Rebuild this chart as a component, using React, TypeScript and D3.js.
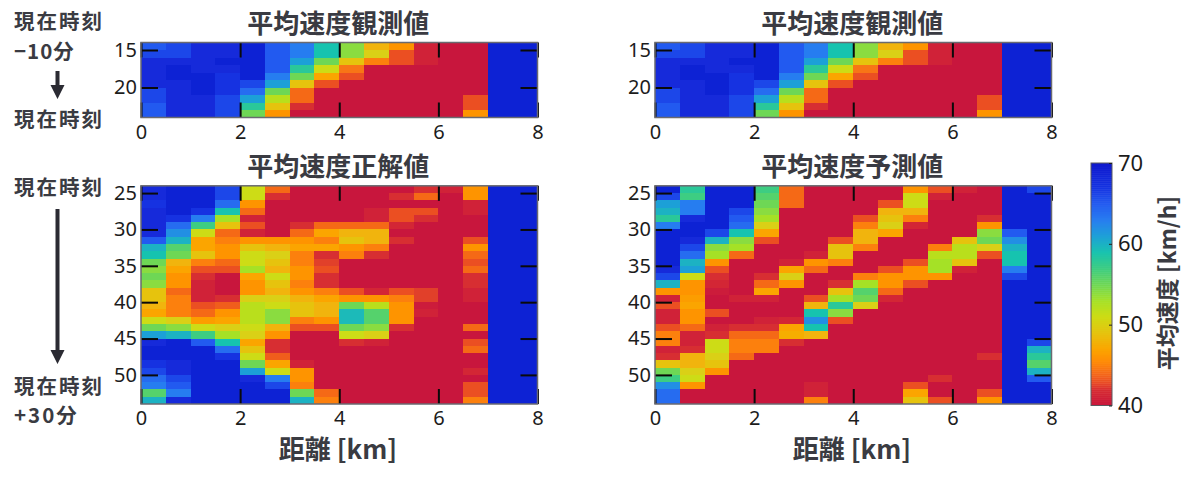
import React, { useEffect, useRef } from 'react';
import * as d3 from 'd3';

// speed values per 0.5 km column, one entry per minute row
const observed: number[][] = [
  [65, 66, 68, 68, 68, 68, 66, 66, 65, 65],
  [66, 66, 68, 69, 69, 68, 68, 68, 68, 68],
  [68, 68, 68, 68, 69, 69, 69, 68, 68, 68],
  [68, 68, 69, 68, 67, 67, 67, 66, 66, 66],
  [69, 69, 69, 69, 69, 66, 64, 61, 58, 55],
  [65, 65, 65, 65, 63, 61, 55, 52, 49, 46],
  [63, 63, 61, 58, 55, 49, 44, 44, 42, 40],
  [59, 59, 55, 51, 47, 43, 40, 40, 40, 40],
  [54, 54, 49, 44.5, 43, 40, 40, 40, 40, 40],
  [48, 50, 45, 40, 40, 40, 40, 40, 40, 40],
  [46, 43, 43, 40, 40, 40, 40, 40, 40, 40],
  [41, 41, 41, 40, 40, 40, 40, 40, 40, 40],
  [40, 40, 40, 40, 40, 40, 40, 40, 40, 40],
  [40, 40, 40, 40, 40, 40, 40, 43, 43, 46],
  [69, 69, 69, 69, 69, 69, 69, 69, 69, 69],
  [69, 69, 69, 69, 69, 69, 69, 69, 69, 69],
];

const truth: number[][] = [
  [68, 68, 67, 68, 68, 68, 68, 65, 60, 59, 55, 54, 55, 54, 49, 49, 48, 47, 51, 55, 61, 68, 69, 69, 67, 66, 64, 63, 56, 60],
  [69, 69, 69, 69, 67, 64, 62, 60, 56, 55, 48, 47, 46, 46, 44, 45, 45, 45, 50, 54, 60, 69, 69, 69, 68, 68, 66, 65, 63, 68],
  [69, 69, 69, 67, 63, 57, 51, 47, 47, 49, 45, 43, 42, 41, 41, 41, 43, 44, 46.5, 51, 57, 65, 69, 69, 69, 69, 69, 69, 69, 69],
  [66, 66, 64, 59, 53, 49, 44, 45, 46, 46, 44, 43, 40, 40, 40, 42, 43.5, 46, 47, 50, 53, 59, 64, 67, 69, 69, 69, 69, 69, 69],
  [51, 51, 46, 44, 41, 43, 41, 46, 49, 51, 51, 53, 47, 46, 46, 50, 52, 52, 52, 51, 50, 47, 49, 51, 55, 61, 68, 69, 69, 69],
  [44, 42, 40, 40, 40, 40, 40, 46, 48, 50, 49, 48, 51, 49, 48, 50, 51, 54, 54, 48, 46, 42, 42, 43.5, 47, 51, 63, 66, 69, 69],
  [40, 40, 40, 40, 40, 42, 44, 46, 47, 45, 45, 46, 46, 45, 46, 48, 49, 49, 45, 43, 40, 40, 40, 40, 41, 46, 46, 45, 55, 60],
  [40, 40, 40, 40, 40, 44, 47, 45, 47, 42, 42.5, 43, 42, 42, 45, 47, 48, 48, 46, 43, 40, 40, 40, 40, 40, 40, 40, 40, 44, 45],
  [40, 40, 40, 40, 40, 44, 48, 49, 46, 45, 40, 40, 40, 40, 43, 46, 55, 59.5, 59.5, 55, 51, 42, 40, 40, 40, 40, 40, 40, 40, 40],
  [40, 40, 40, 41, 41, 44, 48, 48, 45, 42, 40, 40, 40, 40, 41.5, 46, 52, 56, 56, 54, 50, 41, 40, 40, 40, 40, 40, 40, 40, 40],
  [40, 42, 40, 43, 43, 41.5, 40, 42, 40, 40, 40, 40, 40, 40, 43, 45, 46, 46, 46, 42, 40, 40, 40, 40, 40, 40, 40, 40, 40, 40],
  [42, 44, 40, 43, 42, 40, 40, 40, 40, 40, 40, 40, 40, 40, 42.5, 42.5, 40.5, 41, 40, 40, 40, 40, 40, 40, 40, 40, 40, 40, 40, 40],
  [41, 40, 40, 40, 40, 40, 40, 40, 40, 40, 40, 40, 40, 40, 40, 40, 40, 40, 40, 40, 40, 40, 40, 40, 40, 40, 40, 40, 40, 40],
  [46, 46, 41, 41, 40, 40, 40, 43, 46, 44, 43, 44, 42, 42, 41, 41, 40, 40, 40, 44, 40, 43, 44, 40, 40, 41.5, 40, 43, 43, 45],
  [69, 69, 69, 69, 69, 69, 69, 69, 69, 69, 69, 69, 69, 69, 69, 69, 69, 69, 69, 69, 69, 69, 69, 69, 69, 69, 69, 69, 69, 69],
  [69, 69, 69, 69, 69, 69, 69, 69, 69, 69, 69, 69, 69, 69, 69, 69, 69, 69, 69, 69, 69, 69, 69, 69, 69, 69, 69, 69, 69, 69],
];

const predicted: number[][] = [
  [69, 66, 61, 60, 58, 63, 69, 69, 69, 69, 69, 68, 66, 60, 46, 41, 43, 41, 41, 43, 45, 45, 41, 42, 49, 55, 57, 62, 64, 64],
  [58, 57, 63, 63, 68, 69, 69, 68, 66, 64, 60, 61, 51, 46, 46, 46.5, 47, 46, 46, 44, 41, 41, 42, 48, 48, 50, 51, 46, 40, 40],
  [69, 69, 69, 69, 69, 69, 66, 60, 54, 53, 46, 43, 42, 41.5, 40.5, 40, 40, 43, 40, 41, 42, 51, 51, 50, 49, 46, 40, 40, 40, 40],
  [69, 69, 69, 66, 65, 64, 59, 54, 53, 44, 40, 40, 40, 40, 40, 41, 40, 40, 40, 42, 44, 45, 45, 44, 40, 40, 40, 40, 40, 40],
  [57, 56, 55, 54, 53, 50, 47, 43, 40, 40, 40, 40, 42, 44, 47, 41, 40, 40, 41, 42, 44, 45, 45, 40, 40, 40, 40, 40, 40, 40],
  [44, 44, 44, 40, 40, 40, 40, 40, 40, 40, 41, 47, 50, 46, 40, 40, 40, 40, 41.5, 47, 47.5, 42, 40, 40, 40, 40, 40, 40, 40, 40],
  [40, 40, 40, 40, 40, 40, 40, 40, 40, 41, 46, 44, 40, 40, 40, 43, 48, 59, 62, 59, 48, 40, 40, 40, 40, 40, 40, 41, 41, 45],
  [40, 40, 40, 40, 40, 40, 40, 43, 49, 49, 45, 40, 40, 42, 49, 53, 58, 54, 43, 40, 40, 40, 40, 40, 40, 40, 40, 40, 40, 40],
  [40, 40, 40, 40, 43, 45, 48, 48, 45, 40, 40, 40, 45, 53, 56, 55, 50, 40, 40, 40, 40, 40, 40, 40, 40, 40, 40, 40, 40, 40],
  [40, 40, 43, 48, 49, 50, 47, 40, 40, 40, 40, 43, 46, 46, 44, 41.5, 40, 40, 40, 40, 40, 40, 40, 40, 40, 40, 40, 40, 40, 40],
  [46, 51, 51, 48, 45, 41.5, 40, 40, 40, 40, 43, 46, 46, 43, 40, 40, 40, 40, 40, 40, 40, 40, 40, 40, 40, 40, 40, 43, 47, 49],
  [43, 41, 40, 40, 40, 40, 40, 40, 45, 52, 53, 53, 46, 40, 40, 40, 40, 40, 40, 40, 40, 40, 40, 40, 40, 40, 42, 40, 40, 43],
  [41, 40, 40, 40, 40, 40, 40, 49, 52, 52, 49, 41, 40, 40, 40, 40, 40, 40, 40, 40, 40, 40, 40, 40, 40, 40, 40, 40, 40, 40],
  [40, 40, 40, 40, 42, 46, 54, 55, 50, 43, 40, 40, 40, 40, 40, 40, 40, 40, 40, 40, 40, 40, 40, 42, 40, 40, 40, 40, 43, 46],
  [69, 69, 69, 69, 69, 69, 65, 62, 60, 59, 59, 63, 66, 69, 69, 69, 69, 69, 69, 69, 69, 69, 69, 69, 69, 69, 69, 69, 69, 69],
  [66, 69, 69, 69, 69, 69, 69, 69, 69, 69, 69, 69, 69, 69, 69, 69, 69, 69, 69, 69, 69, 66, 60, 58, 56, 60, 65, 69, 69, 69],
];

const xTicks = [0, 2, 4, 6, 8];
const yTicksTop = [15, 20];
const yTicksBottom = [25, 30, 35, 40, 45, 50];
const cbarTicks = [70, 60, 50, 40];
const colWidthKm = 0.5;

const cmapStops = [40, 42, 43, 44, 45.5, 47, 49, 51, 53, 55, 57, 59, 61, 63, 65, 67, 70];
const cmapColors = ['#c8143c', '#d72d32', '#eb5023', '#f56919', '#ff8c05', '#fba500', '#e6c30f', '#cddc14', '#a5e128', '#6ed755', '#3ccd82', '#19c3af', '#1ea0d7', '#287df0', '#235af0', '#1432e1', '#0f19cd'];

const FONT = '"Noto Sans CJK JP", "Noto Sans", sans-serif';
const TICK_FONT = '"Noto Sans", sans-serif';
const DARK = '#3a3b42';

const color = d3.scaleLinear<string>().domain(cmapStops).range(cmapColors).clamp(true);

const panels = [
  { title: '平均速度観測値', data: observed, y0: 14, y1: 24, yTicks: yTicksTop, left: 141, top: 42.5, bottom: 117.5 },
  { title: '平均速度観測値', data: observed, y0: 14, y1: 24, yTicks: yTicksTop, left: 655, top: 42.5, bottom: 117.5 },
  { title: '平均速度正解値', data: truth, y0: 24, y1: 54, yTicks: yTicksBottom, left: 141, top: 185.8, bottom: 404 },
  { title: '平均速度予測値', data: predicted, y0: 24, y1: 54, yTicks: yTicksBottom, left: 655, top: 185.8, bottom: 404 },
];

const App = () => {
  const svgRef = useRef<SVGSVGElement>(null);

  useEffect(() => {
    const svg = d3.select(svgRef.current);
    svg.selectAll('*').remove();
    const panelWidth = 396.5;

    const defs = svg.append('defs');
    defs.append('filter').attr('id', 'soft')
      .attr('x', '-2%').attr('y', '-2%').attr('width', '104%').attr('height', '104%')
      .append('feGaussianBlur').attr('stdDeviation', 0.6);

    panels.forEach((p, idx) => {
      const x = d3.scaleLinear().domain([0, 8]).range([p.left, p.left + panelWidth]);
      const y = d3.scaleLinear().domain([p.y0, p.y1]).range([p.top, p.bottom]);
      const cells = p.data.flatMap((col, c) => col.map((v, r) => ({ c, r, v })));

      defs.append('clipPath').attr('id', `clip${idx}`)
        .append('rect')
        .attr('x', p.left).attr('y', p.top)
        .attr('width', panelWidth).attr('height', p.bottom - p.top);

      svg.append('g').attr('clip-path', `url(#clip${idx})`)
        .append('g').attr('filter', 'url(#soft)')
        .selectAll('rect').data(cells).join('rect')
        .attr('shape-rendering', 'crispEdges')
        .attr('x', d => x(d.c * colWidthKm))
        .attr('y', d => y(p.y0 + d.r))
        .attr('width', x(colWidthKm) - x(0) + 0.5)
        .attr('height', y(1) - y(0) + 0.5)
        .attr('fill', d => color(d.v));

      // ticks point inward on all four sides
      const bottomAxis = d3.axisBottom(x).tickValues(xTicks).tickFormat(d3.format('d')).tickSizeInner(-15).tickSizeOuter(0).tickPadding(7);
      const topAxis = d3.axisTop(x).tickValues(xTicks).tickFormat(() => '').tickSizeInner(-15).tickSizeOuter(0);
      const leftAxis = d3.axisLeft(y).tickValues(p.yTicks).tickFormat(d3.format('d')).tickSizeInner(-17).tickSizeOuter(0).tickPadding(4);
      const rightAxis = d3.axisRight(y).tickValues(p.yTicks).tickFormat(() => '').tickSizeInner(-17).tickSizeOuter(0);

      const axes = [
        svg.append('g').attr('transform', `translate(0,${p.bottom})`).call(bottomAxis),
        svg.append('g').attr('transform', `translate(0,${p.top})`).call(topAxis),
        svg.append('g').attr('transform', `translate(${p.left},0)`).call(leftAxis),
        svg.append('g').attr('transform', `translate(${p.left + panelWidth},0)`).call(rightAxis),
      ];
      axes.forEach(a => {
        a.select('.domain').attr('stroke', 'none');
        a.selectAll('.tick line').attr('stroke', '#0a0a0a').attr('stroke-width', 2);
        a.selectAll('.tick text').attr('font-family', TICK_FONT).attr('font-size', 20).attr('fill', '#1c1c1c');
      });

      svg.append('rect')
        .attr('x', p.left).attr('y', p.top)
        .attr('width', panelWidth).attr('height', p.bottom - p.top)
        .attr('fill', 'none').attr('stroke', '#6a6a70').attr('stroke-width', 1.5);

      svg.append('text')
        .attr('x', p.left + panelWidth / 2 - 1).attr('y', p.top - 10)
        .attr('text-anchor', 'middle')
        .attr('font-family', FONT).attr('font-weight', 700).attr('font-size', 26).attr('fill', DARK)
        .text(p.title);
    });

    [141, 655].forEach(left => {
      svg.append('text')
        .attr('x', left + 197).attr('y', 459)
        .attr('text-anchor', 'middle')
        .attr('font-family', FONT).attr('font-weight', 700).attr('font-size', 26).attr('fill', DARK)
        .text('距離 [km]');
    });

    // colorbar
    const cbarY = d3.scaleLinear().domain([40, 70]).range([405.5, 163]);
    const cbarX = 1091;
    const cbarW = 21;
    svg.append('g').selectAll('rect').data(d3.range(40, 70, 0.25)).join('rect')
      .attr('x', cbarX)
      .attr('y', d => cbarY(d + 0.25))
      .attr('width', cbarW)
      .attr('height', cbarY(40) - cbarY(40.25) + 0.5)
      .attr('fill', d => color(d + 0.125));
    svg.append('rect')
      .attr('x', cbarX).attr('y', 163).attr('width', cbarW).attr('height', 242.5)
      .attr('fill', 'none').attr('stroke', '#5a5a60').attr('stroke-width', 1);
    const cbarAxis = svg.append('g').attr('transform', `translate(${cbarX + cbarW},0)`)
      .call(d3.axisRight(cbarY).tickValues(cbarTicks).tickFormat(d3.format('d')).tickSizeInner(-3).tickSizeOuter(0).tickPadding(6));
    cbarAxis.select('.domain').attr('stroke', 'none');
    cbarAxis.selectAll('.tick line').attr('stroke', '#222');
    cbarAxis.selectAll('.tick text').attr('font-family', TICK_FONT).attr('font-size', 22).attr('fill', '#1c1c1c');

    svg.append('text')
      .attr('transform', 'translate(1176,283) rotate(-90)')
      .attr('text-anchor', 'middle')
      .attr('font-family', FONT).attr('font-weight', 700).attr('font-size', 23).attr('fill', DARK)
      .text('平均速度 [km/h]');

    // annotations on the left
    const notes: [string, number, number][] = [
      ['現在時刻', 29, 2], ['−10分', 59, 1], ['現在時刻', 127, 2], ['現在時刻', 195, 2], ['現在時刻', 394, 2], ['+30分', 423, 2],
    ];
    svg.append('g').selectAll('text').data(notes).join('text')
      .attr('x', 14).attr('y', d => d[1])
      .attr('font-family', FONT).attr('font-weight', 700).attr('font-size', 20.5)
      .attr('letter-spacing', d => d[2]).attr('fill', DARK)
      .text(d => d[0]);

    const arrows: [number, number][] = [[71, 99], [209, 364]];
    arrows.forEach(([from, to]) => {
      const path = d3.path();
      path.moveTo(55.5, from);
      path.lineTo(55.5, to - 14);
      path.lineTo(50.5, to - 14);
      path.lineTo(57.5, to);
      path.lineTo(64.5, to - 14);
      path.lineTo(59.5, to - 14);
      path.lineTo(59.5, from);
      path.closePath();
      svg.append('path').attr('d', path.toString()).attr('fill', '#2b2b33');
    });
  }, []);

  return (
    <div style={{ position: 'absolute', left: 0, top: 0, background: '#fff' }}>
      <svg ref={svgRef} width={1200} height={482} style={{ display: 'block' }} />
    </div>
  );
};

export default App;
